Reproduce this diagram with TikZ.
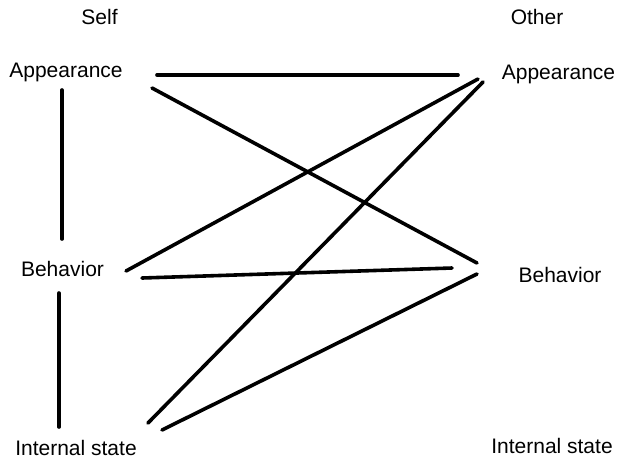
\documentclass[tikz,border=0pt]{standalone}
\usepackage{fontspec}
\setmainfont{Liberation Sans}
\begin{document}
\begin{tikzpicture}[x=1pt,y=-1pt,
  lbl/.style={inner sep=0pt,anchor=base,font=\fontsize{21}{25}\selectfont},
  link/.style={line width=3.6pt,line cap=round}]
\useasboundingbox (0,0) rectangle (617,459);
% labels
\node[lbl] (self) at (99.5,24) {Self};
\node[lbl] (other) at (537,24) {Other};
\node[lbl] (sa) at (66,77) {Appearance};
\node[lbl] (oa) at (558.5,79) {Appearance};
\node[lbl] (sb) at (62.5,276) {Behavior};
\node[lbl] (ob) at (560,282) {Behavior};
\node[lbl] (si) at (76,455) {Internal state};
\node[lbl] (oi) at (552,453) {Internal state};
% connector end points
\coordinate (sa1) at (157,75);
\coordinate (oa1) at (458,75);
\coordinate (sa2) at (152,88);
\coordinate (ob2) at (477,263);
\coordinate (sa3) at (62,90);
\coordinate (sb3) at (62,239);
\coordinate (sb4) at (126,271);
\coordinate (oa4) at (478,79);
\coordinate (sb5) at (142,278);
\coordinate (ob5) at (452,268);
\coordinate (si7) at (162,430);
\coordinate (ob7) at (477,274);
\coordinate (si8) at (148,423);
\coordinate (oa8) at (483,82);
\coordinate (sb9) at (59,293);
\coordinate (si9) at (59,427);
% connectors
\draw[link] (sa1) -- (oa1);
\draw[link] (sa2) -- (ob2);
\draw[link] (sa3) -- (sb3);
\draw[link] (sb4) -- (oa4);
\draw[link] (sb5) -- (ob5);
\draw[link] (si7) -- (ob7);
\draw[link] (si8) -- (oa8);
\draw[link] (sb9) -- (si9);
\end{tikzpicture}
\end{document}
